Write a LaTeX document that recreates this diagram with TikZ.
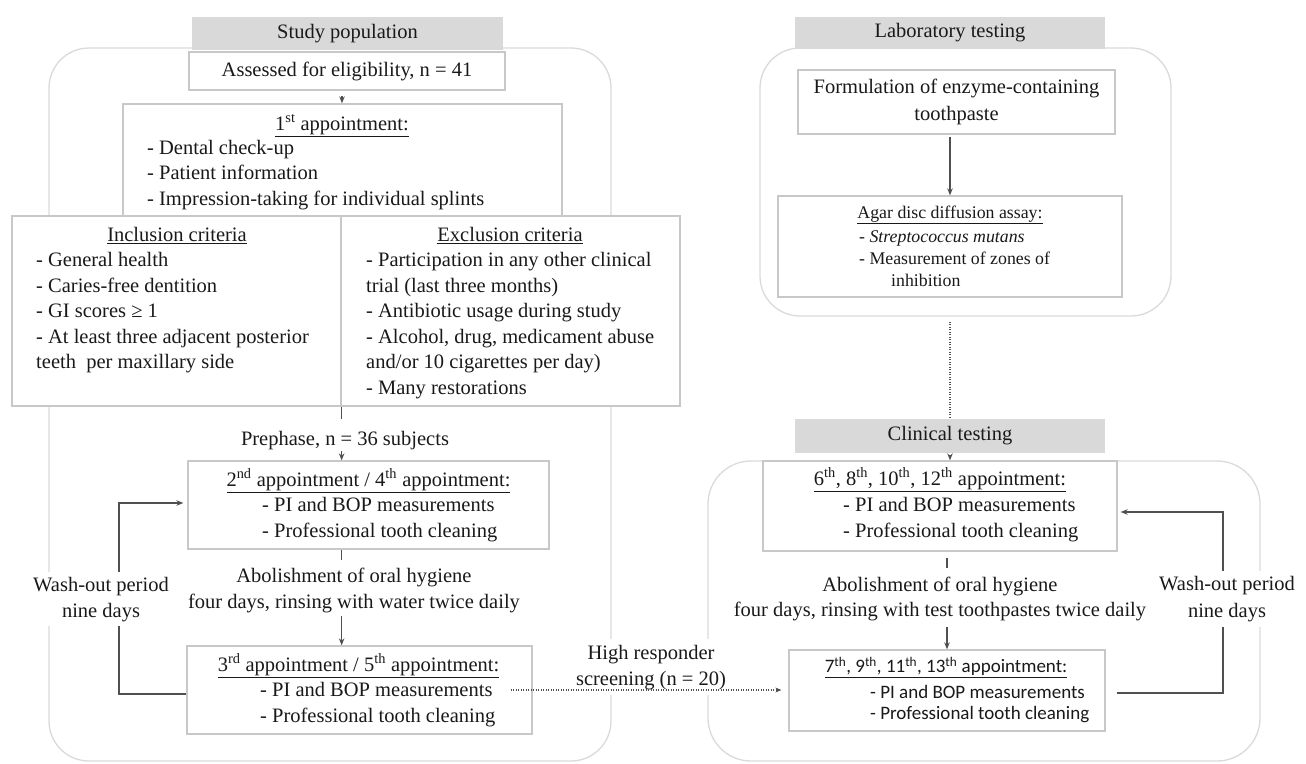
\documentclass[tikz,border=0pt]{standalone}
\usepackage{fontspec}
\setmainfont{Liberation Serif}
\newfontfamily\calibri{Carlito}
\usetikzlibrary{arrows.meta}
\definecolor{hdr}{RGB}{217,217,217}
\definecolor{boxc}{RGB}{200,200,200}
\definecolor{contc}{RGB}{218,218,218}
\definecolor{arrc}{RGB}{80,80,80}
\definecolor{txt}{RGB}{25,25,25}
\newcommand\mainsz{\fontsize{20.5}{25.5}\selectfont}
\newcommand\agarsz{\fontsize{17.8}{22}\selectfont}
\tikzset{
 cont/.style={draw=contc, line width=1.3pt, inner sep=0pt},
 boxx/.style={draw=boxc, fill=white, line width=1.3pt, inner sep=0pt},
 hdrbox/.style={fill=hdr, inner sep=0pt, font=\mainsz, text=txt},
 txtl/.style={anchor=base west, align=left, inner sep=0pt, font=\mainsz, text=txt},
 txtc/.style={anchor=base, align=center, inner sep=0pt, font=\mainsz, text=txt},
 conn/.style={draw=arrc, line width=1.2pt},
 arr/.style={conn, -{Stealth[length=7pt,width=5.5pt]}},
 dotline/.style={draw=arrc, line width=1.1pt, dash pattern=on 1pt off 1.5pt},
 dotarr/.style={dotline, -{Stealth[length=6pt,width=5pt]}},
}
\begin{document}
\begin{tikzpicture}[x=1pt,y=-1pt]
\useasboundingbox (0,0) rectangle (1306,763);
% containers
\node[cont, rounded corners=40pt, minimum width=562pt, minimum height=713pt] (leftc) at (330,404.5) {};
\node[cont, rounded corners=40pt, minimum width=411pt, minimum height=268pt] (labc) at (965.5,182) {};
\node[cont, rounded corners=43pt, minimum width=552pt, minimum height=300pt] (rightc) at (984,611) {};
% ---------- study population ----------
\node[hdrbox, minimum width=311pt, minimum height=33pt] (sp) at (347.5,33.5) {Study population};
\node[boxx, minimum width=316pt, minimum height=38pt, font=\mainsz, text=txt] (assessed) at (347,71) {Assessed for eligibility, n = 41};
\node[boxx, minimum width=439pt, minimum height=112pt] (first) at (342.5,160) {};
\node[txtc] (firsth) at (342,130.5) {\underline{1\textsuperscript{st} appointment:}};
\node[txtl] (firstl) at (147,205) {- Dental check-up\\- Patient information\\- Impression-taking for individual splints};
\node[boxx, minimum width=329pt, minimum height=190pt] (inc) at (176.5,311) {};
\node[boxx, minimum width=339pt, minimum height=190pt] (exc) at (510.5,311) {};
\node[txtc] (inch) at (177,241.5) {\underline{Inclusion criteria}};
\node[txtl] (incl) at (36,368.5) {- General health\\- Caries-free dentition\\- GI scores ≥ 1\\- At least three adjacent posterior\\teeth\ \ per maxillary side};
\node[txtc] (exch) at (510,241.5) {\underline{Exclusion criteria}};
\node[txtl] (excl) at (366,394) {- Participation in any other clinical\\trial (last three months)\\- Antibiotic usage during study\\- Alcohol, drug, medicament abuse\\and/or 10 cigarettes per day)\\- Many restorations};
\node[txtc] (pre) at (345,445.5) {Prephase, n = 36 subjects};
\node[boxx, minimum width=361pt, minimum height=88pt] (box2) at (368.5,505) {};
\node[txtc] (b2h) at (368.5,486.5) {\underline{2\textsuperscript{nd} appointment / 4\textsuperscript{th} appointment:}};
\node[txtl] (b2l) at (262,537) {- PI and BOP measurements\\- Professional tooth cleaning};
\node[txtc] (abl) at (354,608) {Abolishment of oral hygiene\\four days, rinsing with water twice daily};
\node[boxx, minimum width=345pt, minimum height=88pt] (box3) at (359.5,690) {};
\node[txtc] (b3h) at (358.5,671.5) {\underline{3\textsuperscript{rd} appointment / 5\textsuperscript{th} appointment:}};
\node[txtl] (b3l) at (260,722) {- PI and BOP measurements\\- Professional tooth cleaning};
% ---------- laboratory ----------
\node[hdrbox, minimum width=310pt, minimum height=32pt] (lt) at (950,33) {Laboratory testing};
\node[boxx, minimum width=317pt, minimum height=64pt, align=center, text=txt, font=\fontsize{20.5}{26.5}\selectfont] (form) at (956.5,102) {Formulation of enzyme-containing\\toothpaste};
\node[boxx, minimum width=344pt, minimum height=101pt] (agar) at (950,246.5) {};
\node[txtc, font=\agarsz] (agh) at (950,218) {\underline{Agar disc diffusion assay:}};
\node[txtl, font=\agarsz] (agl) at (859,286) {- \textit{Streptococcus mutans}\\- Measurement of zones of\\\hspace*{32pt}inhibition};
% ---------- clinical ----------
\node[hdrbox, minimum width=310pt, minimum height=34pt] (ct) at (950,436) {Clinical testing};
\node[boxx, minimum width=354pt, minimum height=90pt] (box6) at (940,506) {};
\node[txtc] (b6h) at (940,485.5) {\underline{6\textsuperscript{th}, 8\textsuperscript{th}, 10\textsuperscript{th}, 12\textsuperscript{th} appointment:}};
\node[txtl] (b6l) at (843,537) {- PI and BOP measurements\\- Professional tooth cleaning};
\node[txtc, font=\fontsize{20.5}{24.5}\selectfont] (abr) at (940,616) {Abolishment of oral hygiene\\four days, rinsing with test toothpastes twice daily};
\node[boxx, minimum width=316pt, minimum height=81pt] (box7) at (947,690.5) {};
\node[txtc, font=\calibri\fontsize{19}{25}\selectfont] (b7h) at (946,672.5) {\underline{7\textsuperscript{th}, 9\textsuperscript{th}, 11\textsuperscript{th}, 13\textsuperscript{th} appointment:}};
\node[txtl, font=\calibri\fontsize{19}{21.5}\selectfont] (b7l) at (870,719.5) {- PI and BOP measurements\\- Professional tooth cleaning};
% ---------- connectors ----------
\coordinate (wl) at (119,600);
\coordinate (wr) at (1223,600);
\draw[arr] ([xshift=-5pt,yshift=-5pt]assessed.south) -- ([xshift=-5pt]assessed.south |- first.north);
\draw[conn] (inc.south east) -- ++(0,12);
\draw[arr] ([yshift=9pt]inc.south east |- box2.north) -- (inc.south east |- box2.north);
\draw[conn] (inc.south east |- box2.south) -- ++(0,10);
\draw[arr] ([yshift=29pt]inc.south east |- box3.north) -- (inc.south east |- box3.north);
\draw[arr] ([yshift=-4pt]box3.west) -- ([yshift=-4pt]box3.west -| wl) -- ([yshift=2pt]box2.west -| wl) -- ([xshift=-4pt,yshift=2pt]box2.west);
\draw[arr] ([yshift=-2pt]agar.north |- form.south) -- (agar.north);
\draw[dotline] ([yshift=-5pt]agar.south |- labc.south) -- (agar.south |- ct.north);
\draw[arr] ([yshift=-2pt]ct.south) -- (ct.south |- box6.north);
\draw[conn] ([yshift=-6pt]box7.north |- box6.south) -- ++(0,10);
\draw[arr] ([yshift=22pt]box7.north) -- (box7.north);
\draw[arr] ([xshift=11pt,yshift=-2.5pt]box7.east) -- ([yshift=-2.5pt]box7.east -| wr) -- ([yshift=-6pt]box6.east -| wr) -- ([xshift=3pt,yshift=-6pt]box6.east);
% ---------- masking labels ----------
\node[txtc, fill=white, inner sep=5pt] (wlab) at (101,617) {Wash-out period\\nine days};
\node[txtc, fill=white, inner sep=5pt, font=\fontsize{20.5}{27}\selectfont] (wrab) at (1227,617.5) {Wash-out period\\nine days};
\node[txtc, fill=white, inner sep=6pt] (hr) at (651,685) {High responder\\screening (n = 20)};
\draw[dotarr] ([xshift=-22pt]box3.east) -- ([xshift=-7pt]box3.east -| box7.west);
\end{tikzpicture}
\end{document}
